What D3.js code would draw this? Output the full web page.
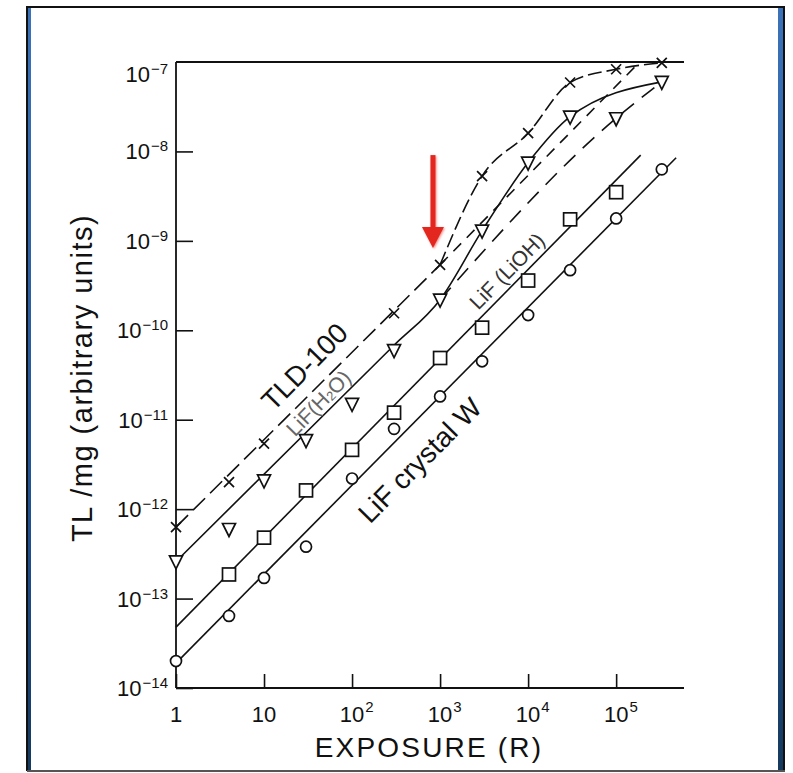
<!DOCTYPE html>
<html><head><meta charset="utf-8">
<script src="https://cdn.jsdelivr.net/npm/d3@7"></script>
<style>body{margin:0;background:#fff} svg{display:block}</style>
</head><body>
<svg id="c" width="793" height="773"></svg>
<script>
// ---------------- data ----------------
const xTicks = [1, 10, 100, 1000, 10000, 100000];
const xTickLabels = [["1", ""], ["10", ""], ["10", "2"], ["10", "3"], ["10", "4"], ["10", "5"]];
const yTicks = [1e-7, 1e-8, 1e-9, 1e-10, 1e-11, 1e-12, 1e-13, 1e-14];
const yTickLabels = [["10", "−7"], ["10", "−8"], ["10", "−9"], ["10", "−10"], ["10", "−11"], ["10", "−12"], ["10", "−13"], ["10", "−14"]];

// TLD-100 (x markers)
const tldPoints = [[1, 6.3e-13], [4, 2.0e-12], [10, 5.4e-12], [300, 1.55e-10], [1000, 5.4e-10], [3000, 5.3e-9], [10000, 1.6e-8], [30000, 5.9e-8], [100000, 8.3e-8], [330000, 9.8e-8]];
const tldLow = [[1, 6.3e-13], [1000, 5.4e-10]];
const tldHigh = [[1000, 5.4e-10], [3000, 5.3e-9], [10000, 1.6e-8], [30000, 5.9e-8], [100000, 8.3e-8], [330000, 9.8e-8]];
const tldExtrap = [[1000, 5.4e-10], [185000, 1e-7]];

// LiF (H2O) (down triangles)
const h2oPoints = [[1, 2.6e-13], [4, 6.0e-13], [10, 2.1e-12], [30, 5.9e-12], [100, 1.5e-11], [300, 6.0e-11], [1000, 2.2e-10], [3000, 1.3e-9], [10000, 7.5e-9], [30000, 2.45e-8], [100000, 2.35e-8], [330000, 6.0e-8]];
const h2oCurve = [[1, 2.6e-13], [300, 6.8e-11], [1000, 2.2e-10], [3000, 1.3e-9], [10000, 7.5e-9], [30000, 2.45e-8], [330000, 6.0e-8]];
const h2oExtrap = [[1000, 2.2e-10], [100000, 2.35e-8], [330000, 6.0e-8]];

// LiF (LiOH) (squares)
const liohPoints = [[4, 1.86e-13], [10, 4.8e-13], [30, 1.62e-12], [100, 4.6e-12], [300, 1.2e-11], [1000, 4.9e-11], [3000, 1.07e-10], [10000, 3.6e-10], [30000, 1.74e-9], [100000, 3.5e-9]];
const liohLine = [[1, 4.8e-14], [190000, 9.1e-9]];

// LiF crystal W (circles)
const crysPoints = [[1, 2.0e-14], [4, 6.4e-14], [10, 1.7e-13], [30, 3.8e-13], [100, 2.2e-12], [300, 7.9e-12], [1000, 1.82e-11], [3000, 4.5e-11], [10000, 1.48e-10], [30000, 4.7e-10], [100000, 1.78e-9], [330000, 6.3e-9]];
const crysLine = [[1, 1.9e-14], [480000, 8.5e-9]];

// annotation arrow (data units)
const arrowAt = {x: 830, from: 9.1e-9, to: 8.3e-10};

// ---------------- drawing ----------------
const svg = d3.select("#c");
const W = 793, H = 773;

svg.append("rect").attr("x", 0).attr("y", 0).attr("width", W).attr("height", H).attr("fill", "#fff");
const defs = svg.append("defs");
const g1 = defs.append("linearGradient").attr("id", "blue").attr("x1", 0).attr("y1", 0).attr("x2", 0).attr("y2", 1);
g1.append("stop").attr("offset", "0%").attr("stop-color", "#3b72b8");
g1.append("stop").attr("offset", "70%").attr("stop-color", "#1f4f8f");
g1.append("stop").attr("offset", "100%").attr("stop-color", "#163a5e");
const sh = defs.append("filter").attr("id", "sh").attr("x", "-50%").attr("y", "-20%").attr("width", "200%").attr("height", "140%");
sh.append("feGaussianBlur").attr("in", "SourceGraphic").attr("stdDeviation", 1.2);
svg.append("rect").attr("x", 28).attr("y", 7).attr("width", 3).attr("height", 763).attr("fill", "url(#blue)");
svg.append("rect").attr("x", 778).attr("y", 7).attr("width", 5).attr("height", 763).attr("fill", "url(#blue)");
svg.append("line").attr("x1", 27).attr("x2", 785).attr("y1", 7).attr("y2", 7).attr("stroke", "#111").attr("stroke-width", 2);
svg.append("line").attr("x1", 27).attr("x2", 27).attr("y1", 6).attr("y2", 771).attr("stroke", "#111").attr("stroke-width", 2);
svg.append("line").attr("x1", 784).attr("x2", 784).attr("y1", 6).attr("y2", 771).attr("stroke", "#111").attr("stroke-width", 2);
svg.append("line").attr("x1", 27).attr("x2", 785).attr("y1", 771).attr("y2", 771).attr("stroke", "#555").attr("stroke-width", 2);

// scales
const x = d3.scaleLog().domain([1, 5.9e5]).range([176, 684]);
const y = d3.scaleLog().domain([1e-14, 1e-7]).range([688, 62]);
const [x0, x1] = x.range();
const [y0, y1] = y.range();

const plot = svg.append("g");
plot.append("line").attr("x1", x0).attr("x2", x0).attr("y1", y1).attr("y2", y0).attr("stroke", "#111").attr("stroke-width", 1.8);
plot.append("line").attr("x1", x0).attr("x2", x1).attr("y1", y0).attr("y2", y0).attr("stroke", "#111").attr("stroke-width", 1.8);
plot.append("line").attr("x1", x0).attr("x2", x1).attr("y1", y1).attr("y2", y1).attr("stroke", "#111").attr("stroke-width", 2);

const xAxis = d3.axisTop(x).tickValues(xTicks).tickSize(14).tickFormat("");
const gx = plot.append("g").attr("transform", `translate(0,${y0})`).call(xAxis);
gx.select(".domain").remove();
gx.selectAll("line").attr("stroke", "#111").attr("stroke-width", 1.6);
const yAxis = d3.axisRight(y).tickValues(yTicks.slice(1)).tickSize(17).tickFormat("");
const gy = plot.append("g").attr("transform", `translate(${x0},0)`).call(yAxis);
gy.select(".domain").remove();
gy.selectAll("line").attr("stroke", "#111").attr("stroke-width", 1.6);

const FONT = "'Liberation Sans', Arial, sans-serif";
xTicks.forEach((t, i) => {
  const [b, e] = xTickLabels[i];
  const tb = svg.append("text").attr("x", x(t)).attr("y", y0 + 34).attr("text-anchor", "middle")
    .attr("font-family", FONT).attr("font-size", 22).attr("fill", "#111").text(b);
  if (e) {
    const w = tb.node().getComputedTextLength();
    svg.append("text").attr("x", x(t) + w / 2 + 1).attr("y", y0 + 24).attr("font-family", FONT)
      .attr("font-size", 15).attr("fill", "#111").text(e);
  }
});
yTicks.forEach((t, i) => {
  const [b, e] = yTickLabels[i];
  const dy = i === 0 ? 12 : 0; // top label sits just under the frame line
  const te = svg.append("text").attr("x", 168).attr("y", y(t) + dy).attr("text-anchor", "end")
    .attr("font-family", FONT).attr("font-size", 15).attr("fill", "#111").text(e);
  const w = te.node().getComputedTextLength();
  svg.append("text").attr("x", 168 - w - 1).attr("y", y(t) + 8 + dy).attr("text-anchor", "end")
    .attr("font-family", FONT).attr("font-size", 22).attr("fill", "#111").text(b);
});

svg.append("text").attr("x", 429).attr("y", 757).attr("text-anchor", "middle")
  .attr("font-family", FONT).attr("font-size", 28).attr("letter-spacing", 2.2).attr("fill", "#111").text("EXPOSURE (R)");
svg.append("text").attr("transform", `translate(92,378) rotate(-90)`).attr("text-anchor", "middle")
  .attr("font-family", FONT).attr("font-size", 29).attr("letter-spacing", 1.5).attr("fill", "#111").text("TL /mg (arbitrary units)");

const line = d3.line().x(d => x(d[0])).y(d => y(d[1]));
const curve = d3.line().x(d => x(d[0])).y(d => y(d[1])).curve(d3.curveMonotoneX);
const lines = plot.append("g").attr("fill", "none").attr("stroke", "#111").attr("stroke-width", 1.6);
lines.append("path").attr("d", line(tldLow)).attr("stroke-dasharray", "17,7");
lines.append("path").attr("d", curve(tldHigh)).attr("stroke-dasharray", "14,5");
lines.append("path").attr("d", line(tldExtrap)).attr("stroke-dasharray", "11,8");
lines.append("path").attr("d", curve(h2oCurve));
lines.append("path").attr("d", curve(h2oExtrap)).attr("stroke-dasharray", "16,10");
lines.append("path").attr("d", line(liohLine));
lines.append("path").attr("d", line(crysLine));

const mk = plot.append("g").attr("fill", "#fff").attr("stroke", "#111").attr("stroke-width", 1.7);
mk.selectAll(".cross").data(tldPoints).join("path").attr("class", "cross")
  .attr("d", d => { const cx = x(d[0]), cy = y(d[1]), s = 5; return `M${cx - s},${cy - s}L${cx + s},${cy + s}M${cx - s},${cy + s}L${cx + s},${cy - s}`; })
  .attr("fill", "none");
mk.selectAll(".tri").data(h2oPoints).join("path").attr("class", "tri")
  .attr("d", d => { const cx = x(d[0]), cy = y(d[1]); return `M${cx - 6.5},${cy - 5.5}L${cx + 6.5},${cy - 5.5}L${cx},${cy + 7.5}Z`; });
mk.selectAll(".sq").data(liohPoints).join("rect").attr("class", "sq")
  .attr("x", d => x(d[0]) - 6.5).attr("y", d => y(d[1]) - 6.5).attr("width", 13).attr("height", 13);
mk.selectAll(".ci").data(crysPoints).join("circle").attr("class", "ci")
  .attr("cx", d => x(d[0])).attr("cy", d => y(d[1])).attr("r", 5.5);

// rotated series labels, aligned with the unit-slope lines
const ang = -Math.atan2(y(1e-9) - y(1e-8), x(10) - x(1)) * 180 / Math.PI;
function lab(xv, yv, fs, col) {
  return svg.append("text").attr("transform", `translate(${x(xv)},${y(yv)}) rotate(${ang})`)
    .attr("text-anchor", "middle").attr("dominant-baseline", "central")
    .attr("font-family", FONT).attr("font-size", fs).attr("fill", col);
}
lab(29, 3.9e-11, 28, "#111").text("TLD-100");
const h = lab(41, 1.55e-11, 21, "#666");
h.append("tspan").text("LiF(H");
h.append("tspan").attr("font-size", 13).attr("dy", 4).text("2");
h.append("tspan").attr("dy", -4).text("O)");
lab(5750, 4.6e-10, 21, "#333").text("LiF (LiOH)");
lab(590, 3.5e-12, 28, "#111").text("LiF crystal W");

const ax = x(arrowAt.x), ay0 = y(arrowAt.from), ay1 = y(arrowAt.to);
function arrow(g) {
  g.append("rect").attr("x", ax - 2.5).attr("y", ay0).attr("width", 5).attr("height", (ay1 - ay0) - 19);
  g.append("path").attr("d", `M${ax - 11},${ay1 - 21}L${ax + 11},${ay1 - 21}L${ax},${ay1}Z`);
}
arrow(svg.append("g").attr("fill", "#f08a85").attr("filter", "url(#sh)").attr("transform", "translate(1,1)"));
arrow(svg.append("g").attr("fill", "#e3261e"));
</script>
</body></html>
